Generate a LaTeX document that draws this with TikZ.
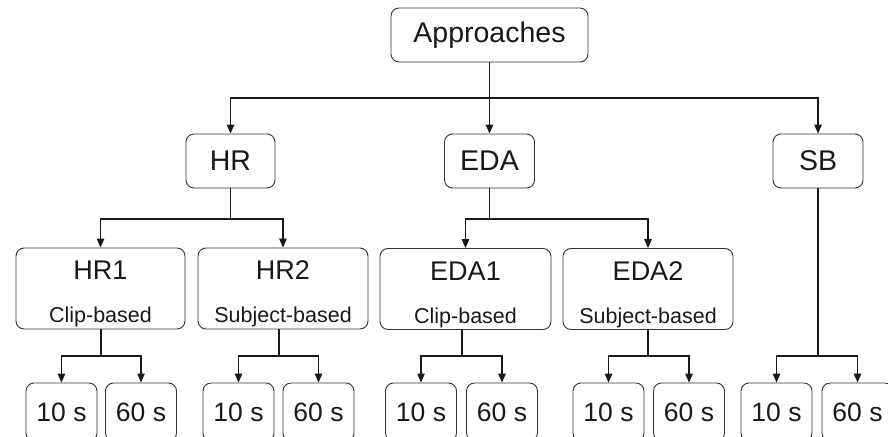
\documentclass[tikz,border=0pt]{standalone}
\usepackage{fontspec}
\setmainfont{Liberation Sans}
\usetikzlibrary{arrows.meta}
\tikzset{
  box/.style={draw=black!80, line width=0.9pt, rounded corners=8pt, inner sep=0pt, align=center, text=black!90},
  topbox/.style={box, font=\fontsize{28.5}{34}\selectfont, minimum height=54pt},
  subbox/.style={box, minimum width=170pt, minimum height=81pt},
  leafbox/.style={box, font=\fontsize{26.5}{32}\selectfont, minimum width=71pt, minimum height=58pt},
  conn/.style={draw=black!90, line width=1.3pt},
  arr/.style={conn, -{Triangle[length=9pt,width=7.5pt]}},
}
\newcommand{\twoline}[2]{{\fontsize{27}{32}\selectfont\rule{0pt}{30pt}#1}\\[26pt]{\fontsize{21.5}{26}\selectfont #2}}
\begin{document}
\begin{tikzpicture}[x=1pt,y=-1pt]
\useasboundingbox (0,0) rectangle (888,436);
\clip (0,0) rectangle (888,436);
% level 0
\node[topbox, minimum width=197pt] (app) at (489.5,35) {Approaches};
% level 1
\node[topbox, minimum width=89pt] (hr) at (230.5,161) {HR};
\node[topbox, minimum width=90pt] (eda) at (489.5,161) {EDA};
\node[topbox, minimum width=90pt] (sb) at (818,161) {SB};
% level 2
\node[subbox, minimum width=169pt] (hr1) at (100.5,288.5) {\twoline{HR1}{Clip-based}};
\node[subbox] (hr2) at (283,288.5) {\twoline{HR2}{Subject-based}};
\node[subbox, minimum width=171pt] (eda1) at (465.5,289) {\twoline{EDA1}{Clip-based}};
\node[subbox] (eda2) at (648,289) {\twoline{EDA2}{Subject-based}};
% leaves
\node[leafbox] (hr1a) at (61.5,412) {10 s};
\node[leafbox] (hr1b) at (141,412) {60 s};
\node[leafbox] (hr2a) at (238.5,412) {10 s};
\node[leafbox] (hr2b) at (318.5,412) {60 s};
\node[leafbox] (eda1a) at (421,412) {10 s};
\node[leafbox] (eda1b) at (502,412) {60 s};
\node[leafbox] (eda2a) at (608.5,412) {10 s};
\node[leafbox] (eda2b) at (689,412) {60 s};
\node[leafbox] (sba) at (776.5,412) {10 s};
\node[leafbox] (sbb) at (857.5,412) {60 s};
% connectors level 0 -> 1
\coordinate (b0) at (489.5,98);
\draw[conn] (app.south) -- (b0);
\draw[arr] (b0) -| (hr.north);
\draw[arr] (b0) -| (sb.north);
\draw[arr] (b0) -- (eda.north);
% level 1 -> 2
\coordinate (b1) at (230.5,219);
\draw[conn] (hr.south) -- (b1);
\draw[arr] (b1) -| (hr1.north);
\draw[arr] (b1) -| (hr2.north);
\coordinate (b2) at (489.5,219);
\draw[conn] (eda.south) -- (b2);
\draw[arr] (b2) -| (eda1.north);
\draw[arr] (b2) -| (eda2.north);
% level 2 -> leaves
\coordinate (c1) at (101,356);
\draw[conn] (hr1.south -| c1) -- (c1);
\draw[arr] (c1) -| (hr1a.north);
\draw[arr] (c1) -| (hr1b.north);
\coordinate (c2) at (279,356);
\draw[conn] (hr2.south -| c2) -- (c2);
\draw[arr] (c2) -| (hr2a.north);
\draw[arr] (c2) -| (hr2b.north);
\coordinate (c3) at (462,356);
\draw[conn] (eda1.south -| c3) -- (c3);
\draw[arr] (c3) -| (eda1a.north);
\draw[arr] (c3) -| (eda1b.north);
\coordinate (c4) at (648,356);
\draw[conn] (eda2.south) -- (c4);
\draw[arr] (c4) -| (eda2a.north);
\draw[arr] (c4) -| (eda2b.north);
\coordinate (c5) at (818,356);
\draw[conn] (sb.south) -- (c5);
\draw[arr] (c5) -| (sba.north);
\draw[arr] (c5) -| (sbb.north);
\end{tikzpicture}
\end{document}
